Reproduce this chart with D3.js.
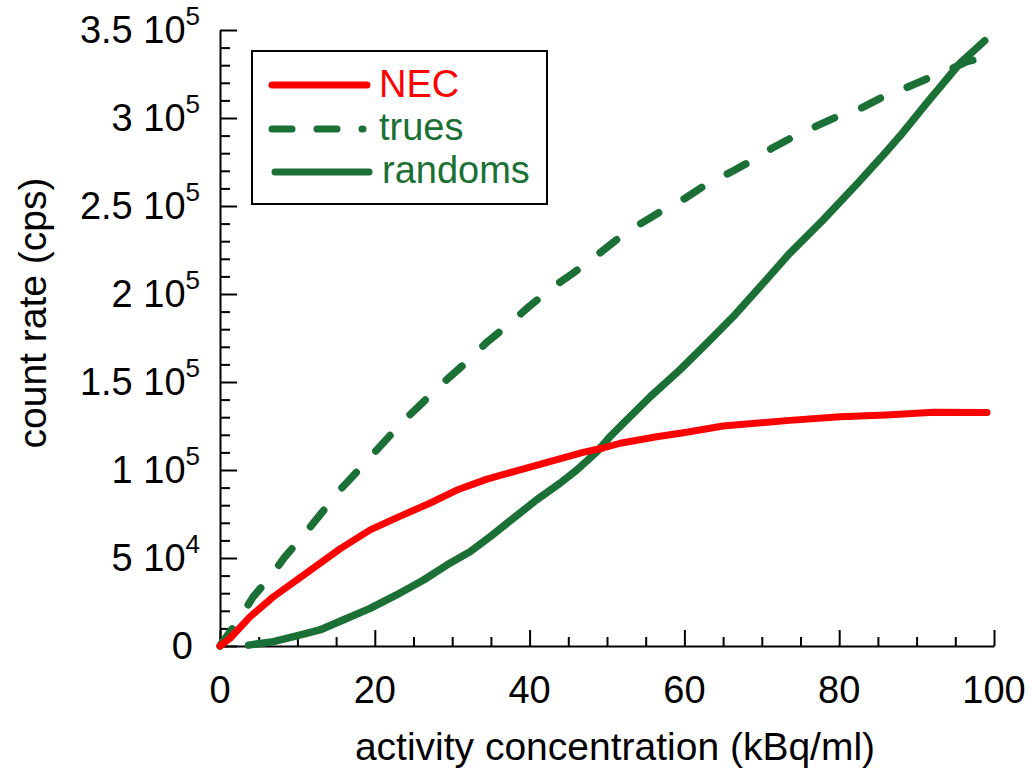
<!DOCTYPE html>
<html>
<head>
<meta charset="utf-8">
<script src="https://cdn.jsdelivr.net/npm/d3@7"></script>
<style>
  html, body { margin: 0; padding: 0; background: #fff; }
  svg { display: block; }
  text { font-family: "Liberation Sans", Arial, Helvetica, sans-serif; }
</style>
</head>
<body>
<svg id="chart" width="1032" height="771"></svg>
<script>
// Count-rate performance versus activity concentration

const necConc = [0, 1.3, 3.9, 6.9, 10.8, 15.5, 19.4, 23.3, 27.1, 30.6, 34.5, 38.3, 42.6, 46.9, 49.5, 51.7, 56.4, 59.9, 65.0, 73.6, 80.1, 86.1, 92.2, 99.1];
const necRate = [0, 4400, 16700, 28000, 40300, 55200, 66000, 73800, 81100, 88600, 94800, 99500, 104700, 110000, 112500, 115200, 118900, 121200, 125000, 128200, 130200, 131300, 132800, 132700];

const truesConc = [0, 0.2, 2.4, 4.3, 6.5, 8.4, 11.0, 13.6, 15.7, 18.3, 20.9, 23.5, 26.3, 28.9, 31.9, 34.5, 37.5, 39.8, 43.1, 45.6, 48.9, 51.2, 54.3, 57.1, 60.1, 62.9, 66.1, 68.7, 71.3, 74.1, 77.1, 79.9, 82.9, 85.3, 88.5, 91.5, 94.1, 96.5, 99.1];
const truesRate = [0, 1500, 14800, 28000, 39400, 50700, 64000, 78200, 89600, 101900, 114500, 127000, 138800, 149800, 161500, 172700, 183400, 192400, 204200, 211800, 222700, 230700, 239800, 247300, 254400, 262500, 269500, 275800, 282800, 289400, 295500, 301100, 305800, 311200, 316900, 322600, 327200, 332000, 334900];

const randomsConc = [3.7, 6.9, 9.9, 12.9, 15.9, 19.4, 22.8, 26.3, 29.3, 32.3, 34.9, 37.9, 40.9, 43.9, 46.1, 48.7, 50.3, 52.1, 55.6, 59.4, 62.9, 66.3, 69.8, 73.6, 77.9, 82.5, 86.1, 87.9, 91.3, 95.6, 98.8];
const randomsRate = [500, 2500, 5700, 9100, 14800, 21400, 29000, 37500, 46000, 53600, 62100, 72600, 83000, 92400, 100000, 110400, 118500, 126500, 141700, 156800, 172000, 187100, 204200, 223100, 242000, 263500, 281000, 290000, 308400, 331100, 343900];

const xMajorTicks = [0, 20, 40, 60, 80, 100];
const xTickLabels = ["0", "20", "40", "60", "80", "100"];
const yMajorTicks = [0, 50000, 100000, 150000, 200000, 250000, 300000, 350000];
const yTickMantissa = ["0", "5 10", "1 10", "1.5 10", "2 10", "2.5 10", "3 10", "3.5 10"];
const yTickExponent = ["", "4", "5", "5", "5", "5", "5", "5"];

const legendNames = ["NEC", "trues", "randoms"];

const RED = "#ff0000";
const GREEN = "#1b7035";

const svg = d3.select("#chart");

const x = d3.scaleLinear().domain([0, 100]).range([220, 994]);
const y = d3.scaleLinear().domain([0, 350000]).range([646, 30]);

const xMinor = d3.range(0, 100.1, 5).filter(v => !xMajorTicks.includes(v));
const yMinor = d3.range(0, 350001, 10000).filter(v => !yMajorTicks.includes(v));

// Axes: ticks point inward
function styleAxis(g) {
  g.selectAll("path.domain").attr("stroke", "#000").attr("stroke-width", 2);
  g.selectAll(".tick line").attr("stroke", "#000").attr("stroke-width", 2);
  g.selectAll(".tick text").remove();
}

svg.append("g")
  .attr("transform", `translate(0,${y(0)})`)
  .call(d3.axisBottom(x).tickValues(xMajorTicks).tickSize(-16).tickSizeOuter(0).tickFormat(""))
  .call(styleAxis);
svg.append("g")
  .attr("transform", `translate(0,${y(0)})`)
  .call(d3.axisBottom(x).tickValues(xMinor).tickSize(-9).tickSizeOuter(0).tickFormat(""))
  .call(g => g.select("path.domain").remove())
  .call(styleAxis);

svg.append("g")
  .attr("transform", `translate(${x(0)},0)`)
  .call(d3.axisLeft(y).tickValues(yMajorTicks).tickSize(-17).tickSizeOuter(0).tickFormat(""))
  .call(styleAxis);
svg.append("g")
  .attr("transform", `translate(${x(0)},0)`)
  .call(d3.axisLeft(y).tickValues(yMinor).tickSize(-10).tickSizeOuter(0).tickFormat(""))
  .call(g => g.select("path.domain").remove())
  .call(styleAxis);

// Tick labels
svg.append("g").selectAll("text")
  .data(xMajorTicks)
  .join("text")
  .attr("x", d => x(d))
  .attr("y", 703)
  .attr("text-anchor", "middle")
  .attr("font-size", 38)
  .attr("fill", "#000")
  .text((d, i) => xTickLabels[i]);

const yLabels = svg.append("g").selectAll("text")
  .data(yMajorTicks)
  .join("text")
  .attr("x", (d, i) => yTickExponent[i] ? 200 : 193)
  .attr("y", d => y(d) + 13)
  .attr("text-anchor", "end")
  .attr("font-size", 38)
  .attr("fill", "#000");
yLabels.append("tspan").text((d, i) => yTickMantissa[i]);
yLabels.filter((d, i) => yTickExponent[i] !== "")
  .append("tspan")
  .attr("font-size", 26)
  .attr("dy", -18)
  .text(d => yTickExponent[yMajorTicks.indexOf(d)]);

// Axis titles
svg.append("text")
  .attr("x", 615)
  .attr("y", 760)
  .attr("text-anchor", "middle")
  .attr("font-size", 39)
  .text("activity concentration (kBq/ml)");

svg.append("text")
  .attr("transform", "translate(46,313) rotate(-90)")
  .attr("text-anchor", "middle")
  .attr("font-size", 39)
  .text("count rate (cps)");

// Curves
const line = d3.line().x(d => x(d[0])).y(d => y(d[1]));
const zip = (a, b) => a.map((v, i) => [v, b[i]]);

svg.append("path")
  .datum(zip(truesConc, truesRate))
  .attr("d", line)
  .attr("fill", "none")
  .attr("stroke", GREEN)
  .attr("stroke-width", 7.5)
  .attr("stroke-linecap", "round")
  .attr("stroke-linejoin", "round")
  .attr("stroke-dasharray", "21 29");

svg.append("path")
  .datum(zip(randomsConc, randomsRate))
  .attr("d", line)
  .attr("fill", "none")
  .attr("stroke", GREEN)
  .attr("stroke-width", 7.5)
  .attr("stroke-linecap", "round")
  .attr("stroke-linejoin", "round");

svg.append("path")
  .datum(zip(necConc, necRate))
  .attr("d", line)
  .attr("fill", "none")
  .attr("stroke", RED)
  .attr("stroke-width", 7)
  .attr("stroke-linecap", "round")
  .attr("stroke-linejoin", "round");

// Legend
const legend = svg.append("g");
legend.append("rect")
  .attr("x", 252).attr("y", 51)
  .attr("width", 295).attr("height", 153)
  .attr("fill", "#fff")
  .attr("stroke", "#000")
  .attr("stroke-width", 2);

const legendItems = [
  { name: legendNames[0], color: RED, dash: null, x1: 272, x2: 367, ly: 85, tx: 379, ty: 97 },
  { name: legendNames[1], color: GREEN, dash: "20 25", x1: 272, x2: 363, ly: 129, tx: 379, ty: 140 },
  { name: legendNames[2], color: GREEN, dash: null, x1: 275, x2: 369, ly: 172, tx: 382, ty: 183 }
];
legendItems.forEach(it => {
  legend.append("line")
    .attr("x1", it.x1).attr("x2", it.x2)
    .attr("y1", it.ly).attr("y2", it.ly)
    .attr("stroke", it.color)
    .attr("stroke-width", 7)
    .attr("stroke-linecap", "round")
    .attr("stroke-dasharray", it.dash);
  legend.append("text")
    .attr("x", it.tx).attr("y", it.ty)
    .attr("font-size", 38)
    .attr("fill", it.color)
    .text(it.name);
});
</script>
</body>
</html>
